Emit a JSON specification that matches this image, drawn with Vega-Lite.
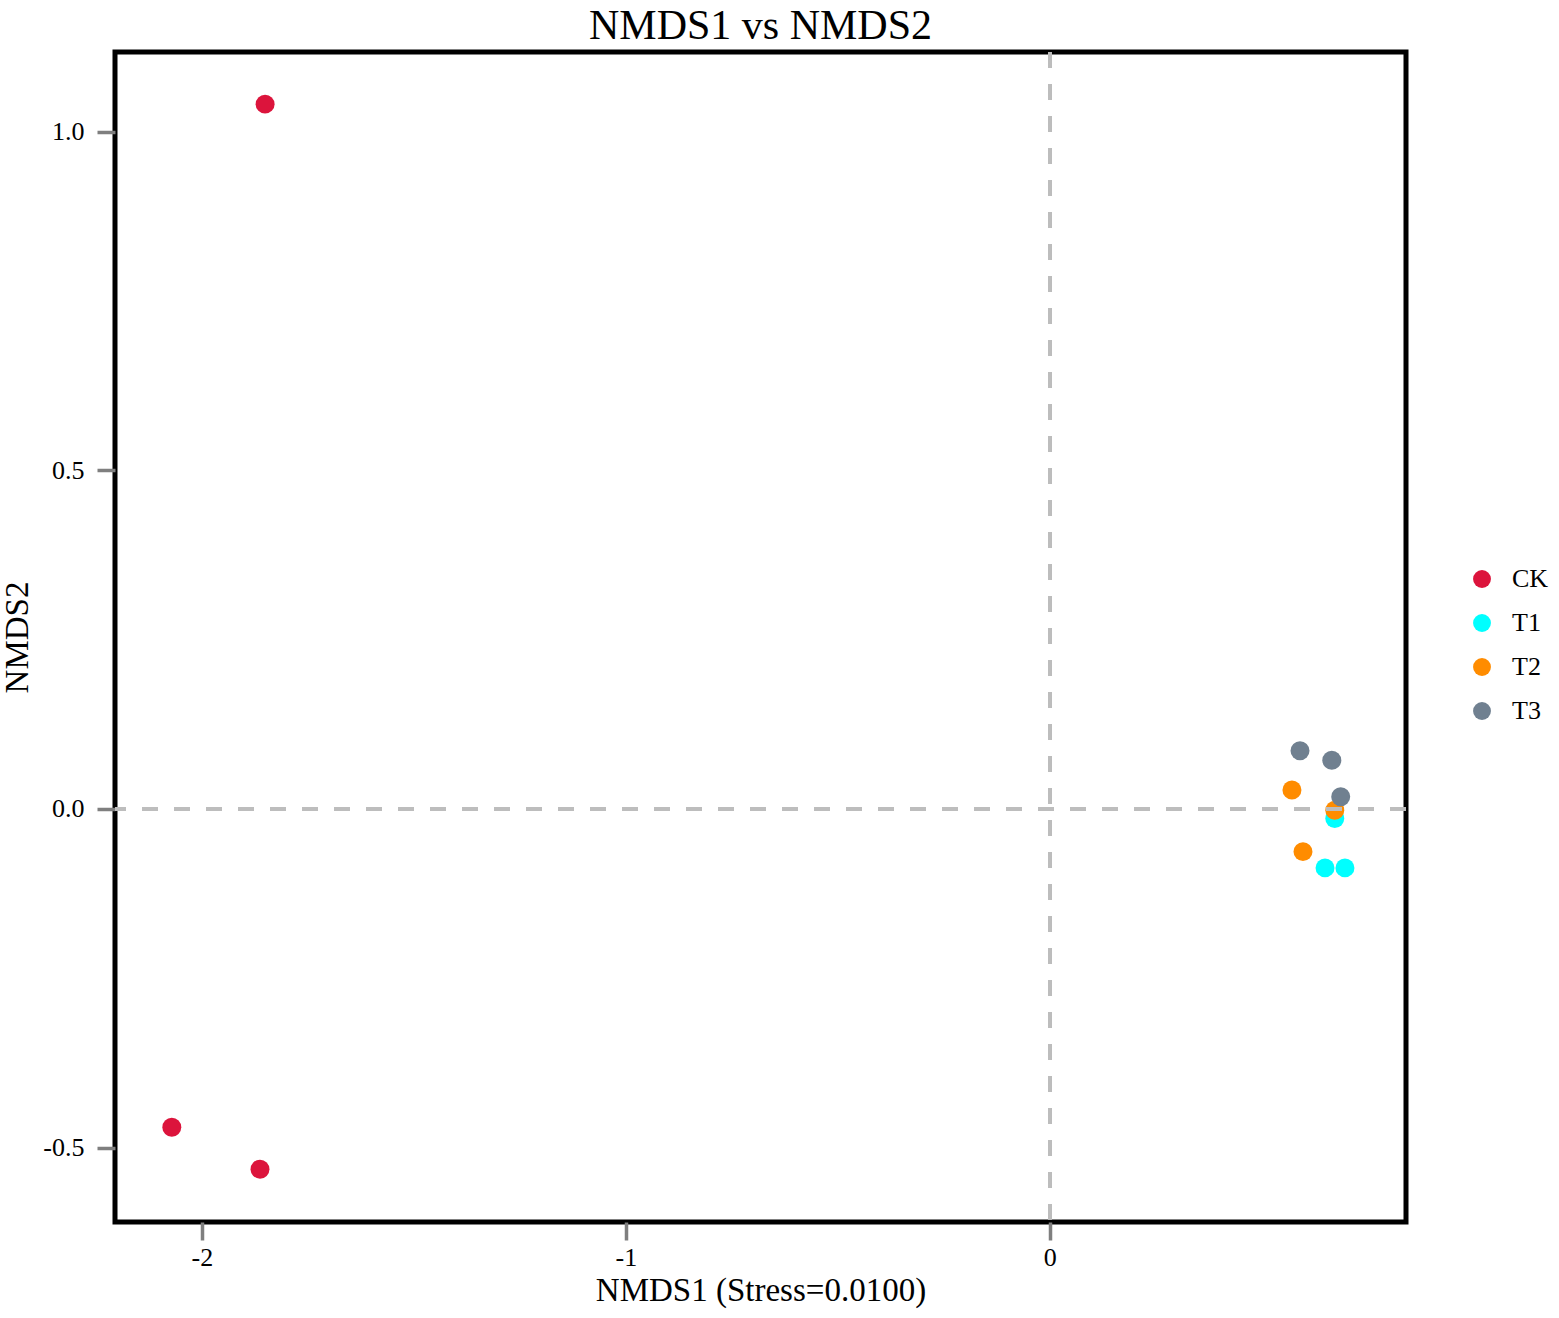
{
  "$schema": "https://vega.github.io/schema/vega-lite/v6.json",
  "width": 1291,
  "height": 1170,
  "autosize": {"type": "none"},
  "padding": {"left": 115, "top": 52, "right": 153, "bottom": 96},
  "background": "white",
  "title": {"text": "NMDS1 vs NMDS2", "font": "Liberation Serif", "fontSize": 42, "fontWeight": "normal", "color": "black", "anchor": "middle", "offset": 2},
  "config": {
    "locale": {"number": {"decimal": ".", "thousands": ",", "grouping": [3], "currency": ["$", ""], "minus": "-"}},
    "view": {"stroke": "black", "strokeWidth": 5},
    "axis": {"grid": false, "domain": false, "tickColor": "#7f7f7f", "tickWidth": 3.5, "tickSize": 18, "labelFont": "Liberation Serif", "labelFontSize": 26, "labelColor": "black", "titleFont": "Liberation Serif", "titleFontSize": 33, "titleFontWeight": "normal", "titleColor": "black"}
  },
  "data": {"values": [
    {"group": "CK", "NMDS1": -1.851, "NMDS2": 1.041},
    {"group": "CK", "NMDS1": -2.071, "NMDS2": -0.470},
    {"group": "CK", "NMDS1": -1.863, "NMDS2": -0.532},
    {"group": "T1", "NMDS1": 0.672, "NMDS2": -0.014},
    {"group": "T1", "NMDS1": 0.649, "NMDS2": -0.087},
    {"group": "T1", "NMDS1": 0.696, "NMDS2": -0.087},
    {"group": "T2", "NMDS1": 0.571, "NMDS2": 0.028},
    {"group": "T2", "NMDS1": 0.672, "NMDS2": -0.002},
    {"group": "T2", "NMDS1": 0.597, "NMDS2": -0.063},
    {"group": "T3", "NMDS1": 0.590, "NMDS2": 0.086},
    {"group": "T3", "NMDS1": 0.665, "NMDS2": 0.072},
    {"group": "T3", "NMDS1": 0.686, "NMDS2": 0.018}
  ]},
  "layer": [
    {
      "mark": {"type": "circle", "size": 360, "opacity": 1},
      "encoding": {
        "x": {"field": "NMDS1", "type": "quantitative", "scale": {"domain": [-2.205, 0.84], "nice": false, "zero": false}, "axis": {"values": [-2, -1, 0], "format": "d", "title": "NMDS1 (Stress=0.0100)", "labelPadding": 4, "titlePadding": 4}},
        "y": {"field": "NMDS2", "type": "quantitative", "scale": {"domain": [-0.61, 1.118], "nice": false, "zero": false}, "axis": {"values": [-0.5, 0, 0.5, 1.0], "format": ".1f", "title": "NMDS2", "labelPadding": 13, "titlePadding": 8}},
        "color": {"field": "group", "type": "nominal", "scale": {"domain": ["CK", "T1", "T2", "T3"], "range": ["#DC143C", "#00FFFF", "#FF8C00", "#708090"]},
          "legend": {"title": null, "orient": "none", "legendX": 1354, "legendY": 514, "symbolType": "circle", "symbolSize": 320, "labelFont": "Liberation Serif", "labelFontSize": 26, "labelColor": "black", "labelOffset": 17, "rowPadding": 18}}
      }
    },
    {
      "mark": {"type": "rule", "color": "#bdbdbd", "strokeWidth": 3.5, "strokeDash": [16, 16]},
      "encoding": {"x": {"datum": 0}}
    },
    {
      "mark": {"type": "rule", "color": "#bdbdbd", "strokeWidth": 3.5, "strokeDash": [16, 16]},
      "encoding": {"y": {"datum": 0}}
    }
  ]
}
